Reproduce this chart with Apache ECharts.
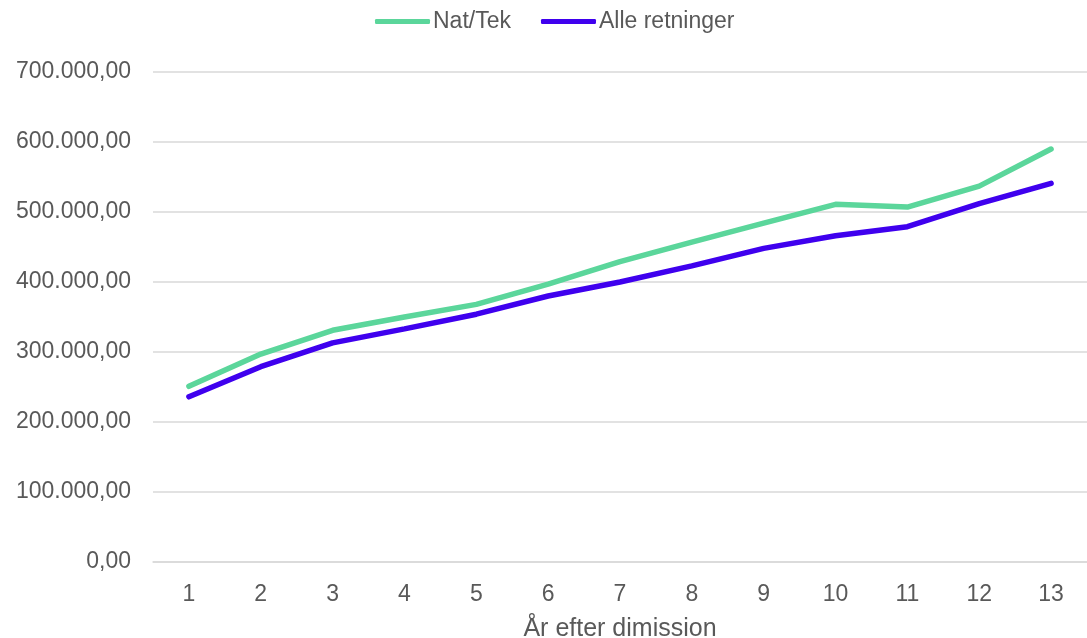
<!DOCTYPE html>
<html><head><meta charset="utf-8">
<script src="https://cdn.jsdelivr.net/npm/echarts@6/dist/echarts.min.js"></script>
<style>html,body{margin:0;padding:0;background:#fff}#c{width:1087px;height:638px}</style>
</head><body><div id="c"></div>
<script>
const categories = ['1','2','3','4','5','6','7','8','9','10','11','12','13'];
const natTek = [251000,297000,331000,350000,368000,397000,429000,457000,484000,511000,507000,537000,590000];
const alle = [236000,279000,313000,333000,354000,380000,400000,423000,448000,466000,479000,512000,541000];
const seriesNames = ['Nat/Tek','Alle retninger'];
const xAxisName = 'År efter dimission';

function fmt(v){
  const s = Math.round(v).toString().replace(/\B(?=(\d{3})+(?!\d))/g,'.');
  return s + ',00';
}
const chart = echarts.init(document.getElementById('c'));
const font = 'Liberation Sans, Arial, sans-serif';
chart.setOption({
  animation:false,
  textStyle:{fontFamily:font},
  legend:{top:5,left:370,itemWidth:55,itemHeight:5,itemGap:30,
    textStyle:{fontSize:23,color:'#595959',fontFamily:font,padding:[0,0,0,-2]},
    icon:'roundRect',
    data:seriesNames},
  grid:{left:153,right:0,top:72,bottom:76,outerBoundsMode:'none',containLabel:false},
  xAxis:{type:'category',data:categories,boundaryGap:true,
    axisLine:{lineStyle:{color:'#d9d9d9',width:1.5}},axisTick:{show:false},
    axisLabel:{fontSize:23,color:'#595959',margin:21,fontFamily:font},
    name:xAxisName,nameLocation:'middle',nameGap:55,
    nameTextStyle:{fontSize:25,color:'#595959',fontFamily:font,verticalAlign:'top'}},
  yAxis:{type:'value',min:0,max:700000,interval:100000,
    axisLine:{show:false},axisTick:{show:false},
    splitLine:{lineStyle:{color:'#d9d9d9',width:1.5}},
    axisLabel:{fontSize:23,color:'#595959',margin:22,formatter:fmt,fontFamily:font,padding:[3,0,0,0]}},
  series:[
    {name:seriesNames[0],type:'line',data:natTek,symbol:'none',
      lineStyle:{color:'#5BD69B',width:5.5,cap:'round'},itemStyle:{color:'#5BD69B'}},
    {name:seriesNames[1],type:'line',data:alle,symbol:'none',
      lineStyle:{color:'#3F00EE',width:5.5,cap:'round'},itemStyle:{color:'#3F00EE'}}
  ]
});
</script></body></html>
